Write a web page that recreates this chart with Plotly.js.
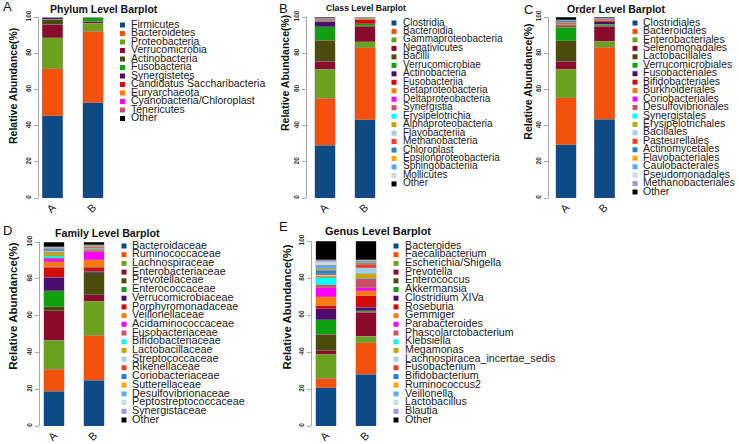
<!DOCTYPE html>
<html>
<head>
<meta charset="utf-8">
<script src="https://cdn.plot.ly/plotly-3.0.1.min.js"></script>
<style>
html, body { margin: 0; padding: 0; background: #fff; }
#chart { width: 739px; height: 444px; }
</style>
</head>
<body>
<div id="chart"></div>
<script>
// samples and values (relative abundance, %)
const sampleLabels = ['A', 'B'];

const phylumNames = ['Firmicutes', 'Bacteroidetes', 'Proteobacteria', 'Verrucomicrobia', 'Actinobacteria', 'Fusobacteria',
    'Synergistetes', 'Candidatus Saccharibacteria', 'Euryarchaeota', 'Cyanobacteria/Chloroplast', 'Tenericutes', 'Other'];
const phylumA = [45.5, 26.0, 17.0, 7.5, 2.6, 0.2, 0.7, 0.1, 0.1, 0.05, 0.05, 0.2];
const phylumB = [52.5, 39.5, 4.5, 1.0, 0.2, 1.8, 0.1, 0.1, 0.1, 0.0, 0.0, 0.2];

const classNames = ['Clostridia', 'Bacteroidia', 'Gammaproteobacteria', 'Negativicutes', 'Bacilli', 'Verrucomicrobiae',
    'Actinobacteria', 'Fusobacteriia', 'Betaproteobacteria', 'Deltaproteobacteria', 'Synergistia', 'Erysipelotrichia',
    'Alphaproteobacteria', 'Flavobacteriia', 'Methanobacteria', 'Chloroplast', 'Epsilonproteobacteria',
    'Sphingobacteriia', 'Mollicutes', 'Other'];
const classA = [29.1, 26.0, 16.0, 4.4, 11.6, 7.4, 2.9, 0.3, 0.5, 0.1, 0.4, 0.2, 0.1, 0.05, 0.1, 0.1, 0.1, 0.05, 0.1, 0.5];
const classB = [43.1, 40.0, 3.1, 8.3, 0.7, 1.1, 0.1, 2.2, 0.3, 0.3, 0.1, 0.1, 0.05, 0.05, 0.05, 0.05, 0.05, 0.05, 0.05, 0.1];

const orderNames = ['Clostridiales', 'Bacteroidales', 'Enterobacteriales', 'Selenomonadales', 'Lactobacillales',
    'Verrucomicrobiales', 'Fusobacteriales', 'Bifidobacteriales', 'Burkholderiales', 'Coriobacteriales',
    'Desulfovibrionales', 'Synergistales', 'Erysipelotrichales', 'Bacillales', 'Pasteurellales', 'Actinomycetales',
    'Flavobacteriales', 'Caulobacterales', 'Pseudomonadales', 'Methanobacteriales', 'Other'];
const orderA = [29.5, 25.9, 15.7, 4.4, 11.4, 7.4, 0.2, 1.0, 0.5, 0.3, 0.4, 0.2, 0.2, 0.3, 0.1, 0.5, 0.05, 0.05, 0.2, 0.1, 1.5];
const orderB = [43.5, 39.9, 3.2, 8.4, 0.3, 0.8, 1.3, 0.6, 0.5, 0.3, 0.1, 0.05, 0.1, 0.1, 0.1, 0.1, 0.05, 0.05, 0.1, 0.05, 0.3];

const familyNames = ['Bacteroidaceae', 'Ruminococcaceae', 'Lachnospiraceae', 'Enterobacteriaceae', 'Prevotellaceae',
    'Enterococcaceae', 'Verrucomicrobiaceae', 'Porphyromonadaceae', 'Veillonellaceae', 'Acidaminococcaceae',
    'Fusobacteriaceae', 'Bifidobacteriaceae', 'Lactobacillaceae', 'Streptococcaceae', 'Rikenellaceae',
    'Coriobacteriaceae', 'Sutterellaceae', 'Desulfovibrionaceae', 'Peptostreptococcaceae', 'Synergistaceae', 'Other'];
const familyA = [19.0, 11.8, 15.8, 16.1, 2.0, 8.7, 7.4, 5.6, 2.9, 1.6, 0.5, 1.2, 1.9, 0.7, 0.1, 0.8, 0.2, 0.3, 0.6, 0.2, 2.6];
const familyB = [25.0, 24.3, 18.5, 3.4, 12.1, 0.1, 0.8, 2.2, 4.0, 4.3, 0.8, 0.3, 0.3, 0.4, 0.6, 0.4, 0.3, 0.3, 0.2, 0.3, 1.4];

const genusNames = ['Bacteroides', 'Faecalibacterium', 'Escherichia/Shigella', 'Prevotella', 'Enterococcus',
    'Akkermansia', 'Clostridium XIVa', 'Roseburia', 'Gemmiger', 'Parabacteroides', 'Phascolarctobacterium',
    'Klebsiella', 'Megamonas', 'Lachnospiracea_incertae_sedis', 'Fusobacterium', 'Bifidobacterium',
    'Ruminococcus2', 'Veillonella', 'Lactobacillus', 'Blautia', 'Other'];
const genusA = [20.7, 5.2, 13.0, 1.7, 8.9, 7.9, 6.0, 1.6, 4.9, 4.9, 1.6, 3.7, 0.8, 0.8, 0.6, 1.8, 0.8, 2.0, 2.1, 1.0, 10.0];
const genusB = [28.1, 16.8, 3.5, 13.2, 0.2, 0.5, 2.0, 6.0, 2.7, 1.6, 5.1, 0.1, 2.6, 3.1, 2.0, 0.5, 0.5, 0.5, 0.5, 0.5, 10.0];

const palette = ['#0E4A86', '#F4520C', '#6CA11E', '#8B0B2D', '#4B4B0C', '#0FA00F', '#4D0B70', '#D50A0A', '#FF7A0E',
    '#FF00FF', '#CE5068', '#00FFFF', '#C6A50B', '#A6CEE8', '#F43A22', '#2A83C2', '#FFA60D', '#55ADF5', '#CCD8E6', '#9999CC'];
const otherColor = '#000000';

const FONT = 'Liberation Sans, Arial, sans-serif';
const W = 739, H = 444;

// pixel placement of every panel
const panels = [
    { names: phylumNames, a: phylumA, b: phylumB, title: 'Phylum Level Barplot', letter: 'A',
      axisPx: 39, barA: 52.5, barB: 93, y100: 17, y0: 198,
      titleX: 104, titleY: 9, titleSize: 10.5, ytX: 13, ytY: 86, ytSize: 10.5, letterX: 7, letterY: 7,
      sqX: 122.5, txtX: 131, legTop: 25, legStep: 8.5, legSize: 10.5 },
    { names: classNames, a: classA, b: classB, title: 'Class Level Barplot', letter: 'B',
      axisPx: 307, barA: 325, barB: 365, y100: 17, y0: 198,
      titleX: 365.5, titleY: 8.5, titleSize: 8.6, ytX: 285, ytY: 73, ytSize: 10.5, letterX: 283, letterY: 8,
      sqX: 394, txtX: 403, legTop: 23, legStep: 8.47, legSize: 10 },
    { names: orderNames, a: orderA, b: orderB, title: 'Order Level Barplot', letter: 'C',
      axisPx: 549, barA: 566, barB: 604.5, y100: 17, y0: 198,
      titleX: 616, titleY: 9, titleSize: 10.5, ytX: 527.7, ytY: 82, ytSize: 10.5, letterX: 528, letterY: 10,
      sqX: 635, txtX: 643, legTop: 23, legStep: 8.45, legSize: 10.5 },
    { names: familyNames, a: familyA, b: familyB, title: 'Family Level Barplot', letter: 'D',
      axisPx: 40, barA: 54, barB: 94, y100: 242, y0: 426,
      titleX: 107, titleY: 233, titleSize: 10.7, ytX: 12.7, ytY: 306, ytSize: 11.5, letterX: 7, letterY: 230,
      sqX: 124, txtX: 132, legTop: 246, legStep: 8.7, legSize: 10.8 },
    { names: genusNames, a: genusA, b: genusB, title: 'Genus Level Barplot', letter: 'E',
      axisPx: 312, barA: 326, barB: 366, y100: 241, y0: 426,
      titleX: 378, titleY: 231, titleSize: 10.9, ytX: 286, ytY: 307.5, ytSize: 11.3, letterX: 283, letterY: 226,
      sqX: 396, txtX: 405, legTop: 246, legStep: 8.7, legSize: 10.7 }
];

function px(x) { return x / W; }
function py(y) { return 1 - y / H; }

var traces = [];
var annotations = [];
var layout = {
    width: W, height: H,
    margin: { l: 0, r: 0, t: 0, b: 0 },
    paper_bgcolor: '#ffffff',
    plot_bgcolor: 'rgba(0,0,0,0)',
    barmode: 'stack',
    showlegend: false,
    font: { family: FONT, color: '#111' }
};

panels.forEach(function (p, k) {
    var n = 2 * k + 1, m = 2 * k + 2;
    var xb = n === 1 ? 'x' : 'x' + n, yb = n === 1 ? 'y' : 'y' + n;
    var xl = 'x' + m, yl = 'y' + m;
    var unit = p.barB - p.barA;
    var pad = p.barA - p.axisPx;
    var N = p.names.length;
    var colors = palette.slice(0, N - 1).concat([otherColor]);
    var idx = p.names.map(function (_, i) { return i; });

    layout['xaxis' + (n === 1 ? '' : n)] = {
        domain: [px(p.axisPx), px(p.barB + pad + 4)],
        range: [-pad / unit, 1 + (pad + 4) / unit],
        type: 'category', categoryarray: sampleLabels, anchor: yb,
        showline: false, ticks: '', showgrid: false, zeroline: false,
        tickangle: -45, tickfont: { family: FONT, size: 11, color: '#222' }
    };
    layout['yaxis' + (n === 1 ? '' : n)] = {
        domain: [py(p.y0), py(p.y100)], range: [0, 100], anchor: xb,
        showline: true, linecolor: '#a8a8a8', linewidth: 1,
        ticks: 'outside', ticklen: 4, tickcolor: '#a8a8a8',
        tickvals: [0, 20, 40, 60, 80, 100], tickangle: -90,
        tickfont: { family: FONT, size: 6.5, color: '#333', weight: 'bold' },
        showgrid: false, zeroline: false
    };
    layout['xaxis' + m] = { domain: [px(p.sqX), px(p.sqX + 10)], range: [0, 10], visible: false, anchor: yl };
    layout['yaxis' + m] = {
        domain: [py(p.legTop + (N - 1) * p.legStep), py(p.legTop)],
        range: [N - 1, 0], visible: false, anchor: xl
    };

    p.names.forEach(function (name, i) {
        traces.push({
            type: 'bar', name: name, x: sampleLabels, y: [p.a[i], p.b[i]],
            width: 20.5 / unit,
            marker: { color: colors[i], line: { color: '#9a9a9a', width: 0.4 } },
            xaxis: xb, yaxis: yb, hoverinfo: 'skip'
        });
    });

    // legend drawn as a small scatter on a hidden axis
    traces.push({
        type: 'scatter', mode: 'markers', x: idx.map(function () { return 0; }), y: idx,
        marker: { symbol: 'square', size: 5, color: colors },
        xaxis: xl, yaxis: yl, cliponaxis: false, hoverinfo: 'skip'
    });
    traces.push({
        type: 'scatter', mode: 'text', x: idx.map(function () { return p.txtX - p.sqX; }), y: idx,
        text: p.names, textposition: 'middle right',
        textfont: { family: FONT, size: p.legSize, color: '#1a1a1a' },
        xaxis: xl, yaxis: yl, cliponaxis: false, hoverinfo: 'skip'
    });

    annotations.push({
        xref: 'paper', yref: 'paper', x: px(p.titleX), y: py(p.titleY), showarrow: false,
        xanchor: 'center', yanchor: 'middle', text: '<b>' + p.title + '</b>',
        font: { family: FONT, size: p.titleSize, color: '#111' }
    });
    annotations.push({
        xref: 'paper', yref: 'paper', x: px(p.letterX), y: py(p.letterY), showarrow: false,
        xanchor: 'center', yanchor: 'middle', text: p.letter,
        font: { family: FONT, size: 13, color: '#111' }
    });
    annotations.push({
        xref: 'paper', yref: 'paper', x: px(p.ytX), y: py(p.ytY), showarrow: false,
        xanchor: 'center', yanchor: 'middle', textangle: -90, text: '<b>Relative Abundance(%)</b>',
        font: { family: FONT, size: p.ytSize, color: '#111' }
    });
});

layout.annotations = annotations;

Plotly.newPlot('chart', traces, layout, { displayModeBar: false, staticPlot: true });
</script>
</body>
</html>
